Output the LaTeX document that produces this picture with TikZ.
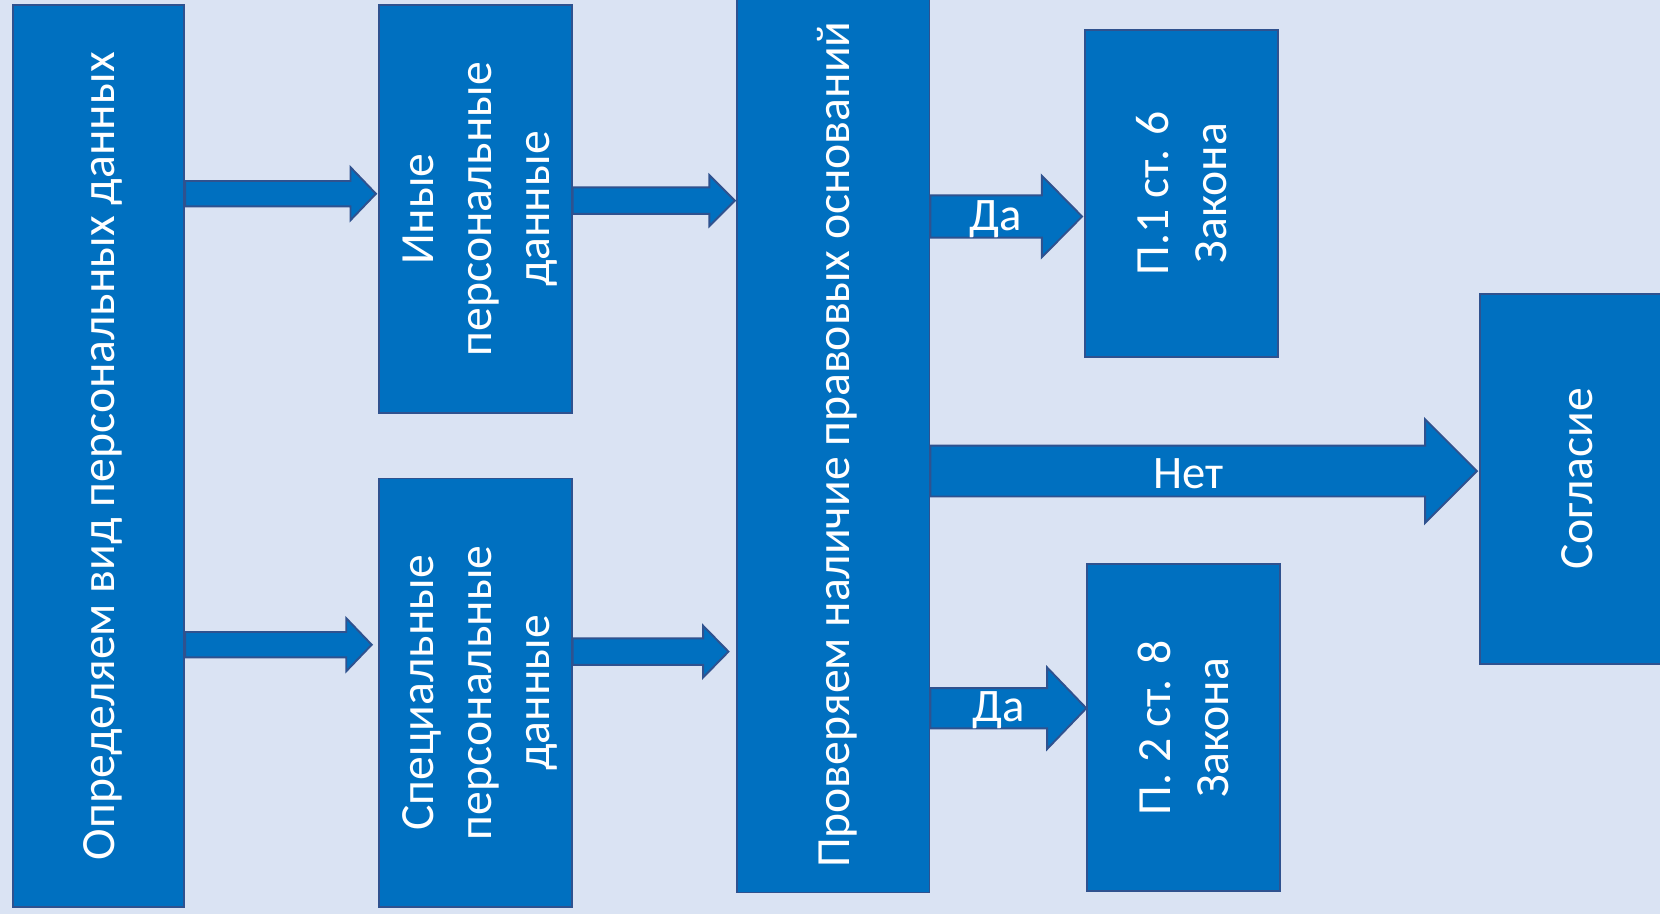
\documentclass[tikz,border=0pt]{standalone}
\usepackage{fontspec}
\setmainfont{Carlito}
\usetikzlibrary{calc}
\definecolor{bgc}{HTML}{DAE3F3}
\definecolor{boxc}{HTML}{0070C0}
\definecolor{edgec}{HTML}{2F528F}
\newcommand\rtext[1]{\rotatebox{90}{\raisebox{-4pt}[\height][\depth]{\fontsize{45}{55}\selectfont\begin{tabular}{@{}c@{}}#1\end{tabular}}}}
\newcommand\blockarrow[7]{%
  \path[barrow] let \p1=(#1.east), \p2=(#2.west) in
    (\x1,{#3+#4}) -- ({\x2-#7-#6},{#3+#4}) -- ({\x2-#7-#6},{#3+#5}) -- ({\x2-#7},#3)
    -- ({\x2-#7-#6},{#3-#5}) -- ({\x2-#7-#6},{#3-#4}) -- (\x1,{#3-#4}) -- cycle;}
\tikzset{
  box/.style={draw=edgec, fill=boxc, line width=1.8pt, inner sep=0pt, text=white},
  barrow/.style={draw=edgec, fill=boxc, line width=1.8pt, line join=miter},
  lbl/.style={text=white, font=\fontsize{44}{50}\selectfont, inner sep=0pt}
}
\begin{document}
\begin{tikzpicture}[x=1pt,y=1pt]
\useasboundingbox (0,0) rectangle (1568,863);
\clip (0,0) rectangle (1568,863);
\fill[bgc] (0,0) rectangle (1568,863);
\node[box, minimum width=162pt, minimum height=852pt] (b1) at (93,432) {\rtext{Определяем вид персональных данных}};
\node[box, minimum width=182pt, minimum height=385pt] (b2) at (449,665.5) {\rtext{Иные\\персональные\\данные}};
\node[box, minimum width=182pt, minimum height=405pt] (b3) at (449,208.5) {\rtext{Специальные\\персональные\\данные}};
\node[box, minimum width=182pt, minimum height=846pt] (b4) at (787,443) {\rtext{Проверяем наличие правовых оснований}};
\node[box, minimum width=182pt, minimum height=309pt] (b5) at (1116,680.5) {\rtext{П.1 ст. 6\\Закона}};
\node[box, minimum width=182pt, minimum height=309pt] (b6) at (1118,175.5) {\rtext{П. 2 ст. 8\\Закона}};
\node[box, minimum width=182pt, minimum height=349pt] (b7) at (1489,410.5) {\rtext{Согласие}};
% arrows: from, to, y, shaft half, head half, head length, tip gap
\blockarrow{b1}{b2}{680}{12}{25}{24}{2}
\blockarrow{b2}{b4}{673.5}{12.5}{24}{24}{1}
\blockarrow{b1}{b3}{254}{12}{25}{24}{6}
\blockarrow{b3}{b4}{247.5}{12.5}{24.5}{24}{7}
\blockarrow{b4}{b5}{658.5}{20}{38.5}{38}{2}
\blockarrow{b4}{b7}{418}{24}{49}{49}{2}
\blockarrow{b4}{b6}{194}{19}{38.5}{37}{0}
\node[lbl] (l1) at (940,656) {Да};
\node[lbl] (l2) at (1123,416) {Нет};
\node[lbl] (l3) at (943,192) {Да};
\end{tikzpicture}
\end{document}
